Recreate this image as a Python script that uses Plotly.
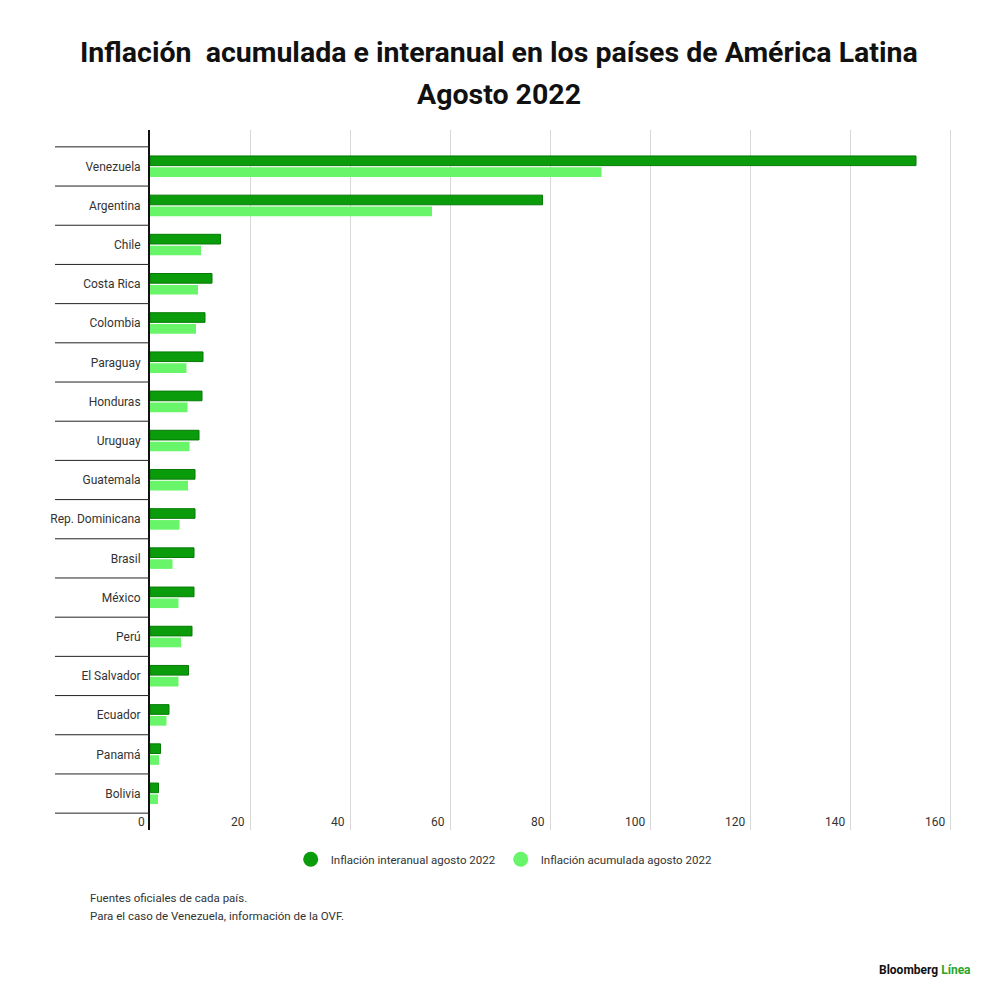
import plotly.graph_objects as go

paises = ["Venezuela", "Argentina", "Chile", "Costa Rica", "Colombia", "Paraguay",
          "Honduras", "Uruguay", "Guatemala", "Rep. Dominicana", "Brasil", "México",
          "Perú", "El Salvador", "Ecuador", "Panamá", "Bolivia"]
interanual = [153.2, 78.5, 14.1, 12.4, 11.0, 10.6, 10.4, 9.8, 9.0, 9.0, 8.8, 8.8, 8.4, 7.7, 3.8, 2.1, 1.7]
acumulada = [90.3, 56.4, 10.2, 9.6, 9.2, 7.3, 7.5, 7.9, 7.6, 5.9, 4.5, 5.7, 6.2, 5.7, 3.3, 1.8, 1.6]
ticks = [0, 20, 40, 60, 80, 100, 120, 140, 160]

verde_osc = "#0a9c0a"
verde_cla = "#69f569"
font = "Roboto"

fig = go.Figure()
fig.add_trace(go.Bar(y=paises, x=interanual, orientation="h", marker_color=verde_osc,
                     marker_line=dict(color="#077a07", width=1), showlegend=False))
fig.add_trace(go.Bar(y=paises, x=acumulada, orientation="h", marker_color=verde_cla,
                     marker_line_width=0, showlegend=False))
# legend entries with round markers
fig.add_trace(go.Scatter(x=[None], y=[None], mode="markers", name="Inflación interanual agosto 2022",
                         marker=dict(color=verde_osc, size=15, symbol="circle")))
fig.add_trace(go.Scatter(x=[None], y=[None], mode="markers", name="Inflación acumulada agosto 2022",
                         marker=dict(color=verde_cla, size=15, symbol="circle")))

# category separator lines at the left
shapes = []
for i in range(len(paises) + 1):
    shapes.append(dict(type="line", xref="paper", yref="y", x0=-0.118, x1=0,
                       y0=i - 0.5, y1=i - 0.5, line=dict(color="#222", width=1)))

fig.update_layout(
    width=992, height=992,
    paper_bgcolor="white", plot_bgcolor="white",
    margin=dict(l=142, r=45, t=122, b=170),
    barmode="group", bargap=0.42, bargroupgap=0.15,
    font=dict(family=font, size=12, color="#333"),
    legend=dict(orientation="h", x=0.44, xanchor="center", y=-0.021, yanchor="top",
                font=dict(size=11.5, color="#333"), itemsizing="trace"),
    shapes=shapes,
    xaxis=dict(range=[0, 161], tickvals=ticks, showgrid=True, gridcolor="#d8d8d8", gridwidth=1,
               zeroline=False, showline=False, ticks="", showticklabels=False),
    yaxis=dict(autorange=False, range=[len(paises) - 0.5 + 0.43, -0.5 - 0.43],
               showline=True, linecolor="#111", linewidth=2, showgrid=False,
               ticks="", ticklabelstandoff=5, tickfont=dict(size=12, color="#333")),
)

# x tick labels, right-aligned just left of each gridline
for t in ticks:
    fig.add_annotation(text=str(t), xref="x", yref="paper", x=t, y=0.012,
                       xanchor="right", yanchor="middle", xshift=-3, showarrow=False,
                       font=dict(size=12, color="#333"))

# title in two lines
fig.add_annotation(text="<b>Inflación  acumulada e interanual en los países de América Latina</b>",
                   xref="paper", yref="paper", x=0.434, y=1.111, xanchor="center", yanchor="middle",
                   showarrow=False, font=dict(family=font, size=28.5, color="#111"))
fig.add_annotation(text="<b>Agosto 2022</b>",
                   xref="paper", yref="paper", x=0.434, y=1.05, xanchor="center", yanchor="middle",
                   showarrow=False, font=dict(family=font, size=28.5, color="#111"))

fig.add_annotation(text="Fuentes oficiales de cada país.",
                   xref="paper", yref="paper", x=-0.077, y=-0.097, xanchor="left", yanchor="middle",
                   showarrow=False, font=dict(size=11.5, color="#333"))
fig.add_annotation(text="Para el caso de Venezuela, información de la OVF.",
                   xref="paper", yref="paper", x=-0.077, y=-0.123, xanchor="left", yanchor="middle",
                   showarrow=False, font=dict(size=11.5, color="#333"))
fig.add_annotation(text="<b>Bloomberg</b> <b><span style='color:#2aa52a'>Línea</span></b>",
                   xref="paper", yref="paper", x=1.022, y=-0.2, xanchor="right", yanchor="middle",
                   showarrow=False, font=dict(size=12, color="#111"))

fig.write_html("out.html")
